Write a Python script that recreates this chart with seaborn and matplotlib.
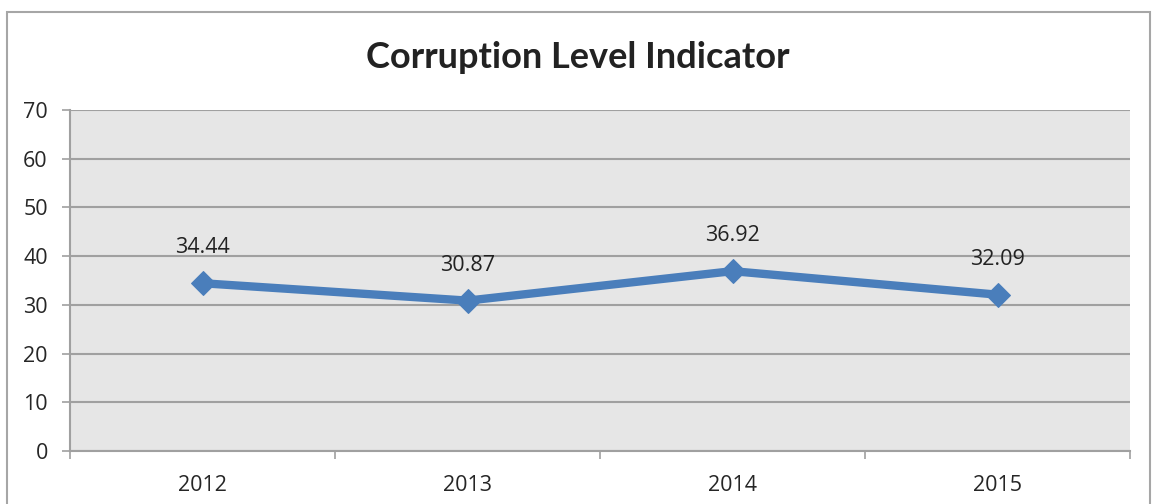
import pandas as pd
import matplotlib.pyplot as plt
import matplotlib.patches as mpatches
import seaborn as sns

# Chart data
years = ['2012', '2013', '2014', '2015']
scores = [34.44, 30.87, 36.92, 32.09]

df = pd.DataFrame({'Year': years, 'Score': scores})

sns.set_style("white")
plt.rcParams['font.family'] = ['Open Sans', 'DejaVu Sans']

fig = plt.figure(figsize=(11.56, 5.04), dpi=100)
ax = fig.add_axes([70 / 1156, 53 / 504, 1060 / 1156, 341 / 504])

# Outer chart border
fig.patches.append(mpatches.Rectangle((7 / 1156, -0.05), 1143 / 1156, 1.05 - 12 / 504,
                                      transform=fig.transFigure, fill=False,
                                      edgecolor='#a6a6a6', linewidth=1.5))

ax.set_facecolor('#e6e6e6')
sns.lineplot(data=df, x='Year', y='Score', ax=ax, color='#4a7ebb', linewidth=6,
             marker='D', markersize=12, markeredgecolor='#4a7ebb', zorder=3)

# Data labels
for i, v in enumerate(scores):
    ax.annotate(f'{v:.2f}', (i, v), xytext=(0, 18), textcoords='offset points',
                ha='center', va='bottom', fontsize=15.5, color='#222222')

ax.set_xlim(-0.5, 3.5)
ax.set_ylim(0, 70)
ax.set_yticks(range(0, 71, 10))
ax.yaxis.grid(True, color='#a0a0a0', linewidth=1.5)
ax.set_axisbelow(True)

ax.set_xticks(range(len(years)))
ax.set_xticklabels(years)
ax.set_xticks([x - 0.5 for x in range(len(years) + 1)], minor=True)
ax.tick_params(axis='x', which='major', length=0, pad=17, labelsize=15.5)
ax.tick_params(axis='x', which='minor', length=6, width=1.2, color='#a0a0a0', direction='out', bottom=True)
ax.tick_params(axis='y', length=6, width=1.2, color='#a0a0a0', direction='out', left=True, labelsize=15.5, pad=10)

for s in ['top', 'right']:
    ax.spines[s].set_visible(False)
for s in ['left', 'bottom']:
    ax.spines[s].set_color('#a0a0a0')
    ax.spines[s].set_linewidth(1.5)

ax.set_xlabel('')
ax.set_ylabel('')
fig.text(0.5, 1 - 58 / 504, 'Corruption Level Indicator', ha='center', va='center',
         fontsize=26, fontweight='bold', color='#222222', family=['Lato', 'DejaVu Sans'])

plt.savefig('out.png', dpi=100)
